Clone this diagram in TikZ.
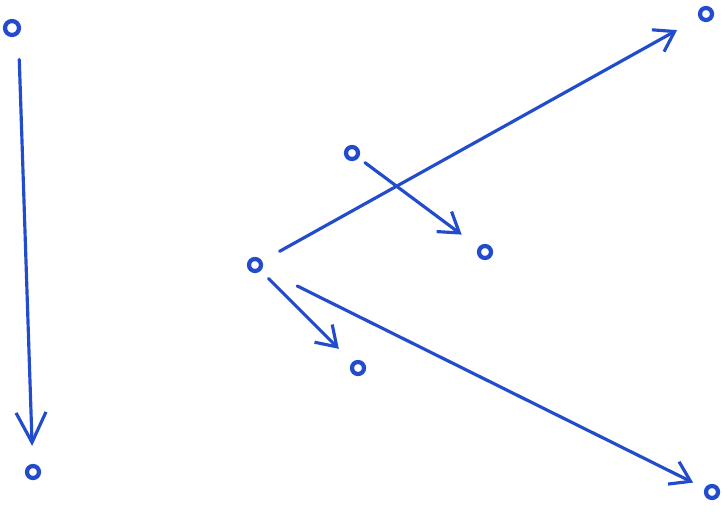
\documentclass[tikz,border=0pt]{standalone}
\usepackage{xcolor}
\usepackage{tikz}
\usetikzlibrary{arrows.meta}
\definecolor{pen}{RGB}{35,75,205}

\begin{document}
\begin{tikzpicture}[x=0.02cm,y=-0.02cm,>={Straight Barb[length=0.38cm,width=0.5cm]},
  dot/.style={circle,draw=pen,line width=2.4pt,minimum size=0.24cm,inner sep=0pt},
  stroke/.style={->,pen,line width=1.8pt,line cap=round}]
  \useasboundingbox (0,0) rectangle (723,517);
  % points
  \node[dot,minimum size=0.28cm] (topl) at (12,28) {};
  \node[dot] (botl) at (33,472) {};
  \node[dot] (mid) at (255,265) {};
  \node[dot] (topr) at (706,14) {};
  \node[dot] (botr) at (712,492) {};
  \node[dot] (low) at (358,368) {};
  \node[dot] (up) at (352,153) {};
  \node[dot] (upr) at (485,252) {};
  % long vertical arrow, larger head
  \draw[stroke,>={Straight Barb[length=0.6cm,width=0.6cm]},shorten <=0.5cm,shorten >=0.36cm] (topl.south east) -- (botl);
  % arrows out of the middle point
  \draw[stroke,shorten <=0.4cm,shorten >=0.5cm] (mid) -- (topr);
  \draw[stroke,shorten <=0.78cm,shorten >=0.26cm] (mid) -- (botr);
  \draw[stroke,shorten <=0.22cm,shorten >=0.38cm] (mid) -- (low);
  % short crossing arrow
  \draw[stroke,shorten <=0.16cm,shorten >=0.42cm] (up) -- (upr);
\end{tikzpicture}
\end{document}
